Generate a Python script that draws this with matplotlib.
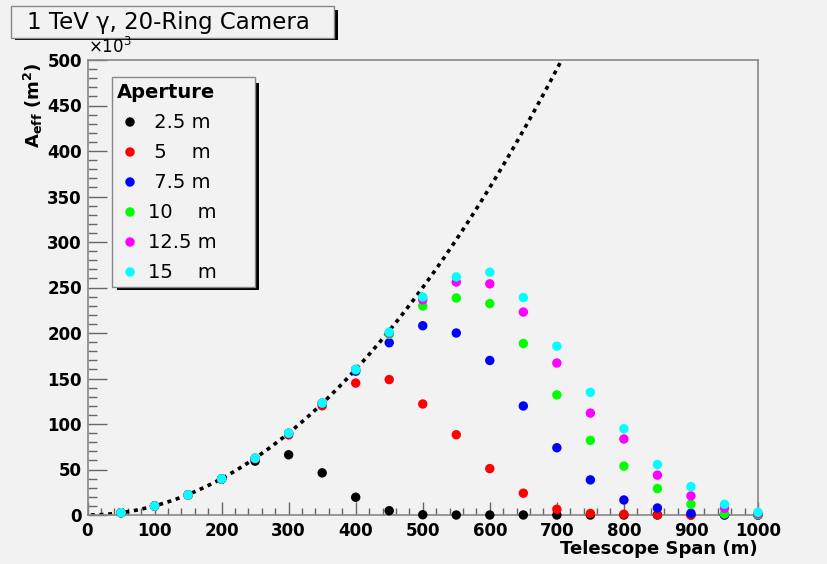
import numpy as np
import matplotlib
matplotlib.use("Agg")
import matplotlib.pyplot as plt
from matplotlib.patches import Rectangle
from matplotlib.ticker import MultipleLocator

# Effective area (units of 10^3 m^2) versus telescope span, per mirror aperture
span = [50, 100, 150, 200, 250, 300, 350, 400, 450, 500,
        550, 600, 650, 700, 750, 800, 850, 900, 950, 1000]

aeff_2p5 = [2.5, 9.9, 22, 39.5, 59.2, 66.2, 46.3, 19.5, 4.7, 0.3,
            0, 0, 0, 0, 0, 0, 0, 0, 0, 0]
aeff_5 = [2.5, 9.9, 22, 39.5, 61.5, 88, 120, 145, 148.8, 122,
          88.2, 51, 24, 6.3, 1.7, 0.8, 0.3, 0, 0, 0]
aeff_7p5 = [2.5, 9.9, 22, 39.6, 62, 89.5, 122.5, 158, 189.3, 208,
            200, 169.8, 119.8, 73.9, 38.6, 16.5, 7.7, 1.9, 0.3, 0]
aeff_10 = [2.5, 9.9, 22, 39.7, 62.3, 89.8, 123, 159.5, 198.5, 229.7,
           238.5, 232.3, 188.5, 132, 82, 53.7, 29, 11.8, 1.1, 0.3]
aeff_12p5 = [2.5, 9.9, 22, 39.7, 62.5, 90, 123, 160, 200, 236.5,
             256, 254, 223, 167, 112, 83.5, 43.8, 21, 7.4, 1.5]
aeff_15 = [2.5, 9.9, 22, 39.7, 62.5, 90, 123, 160, 201, 239.6,
           261.6, 266.8, 239, 185.5, 134.8, 94.8, 55.5, 31.2, 11.8, 3]

series = [aeff_2p5, aeff_5, aeff_7p5, aeff_10, aeff_12p5, aeff_15]
labels = [" 2.5 m", " 5    m", " 7.5 m", "10    m", "12.5 m", "15    m"]
colors = ["#000000", "#ff0000", "#0000ff", "#00ff00", "#ff00ff", "#00ffff"]

title_text = "1 TeV γ, 20-Ring Camera"
legend_title = "Aperture"

# Geometric reference: area of a square of side equal to the span (10^3 m^2)
def geometric_area(length_m):
    return np.asarray(length_m, dtype=float) ** 2 / 1000.0

W, H = 827, 564
BG = "#f2f2f2"
plt.rcParams["font.family"] = ["DejaVu Sans"]

fig = plt.figure(figsize=(W / 100, H / 100), dpi=100, facecolor=BG)
L, R, T, B = 87.5, 758, 60, 515
ax = fig.add_axes([L / W, 1 - B / H, (R - L) / W, (B - T) / H], facecolor=BG)

curve_x = np.linspace(5, 707, 400)
ax.plot(curve_x, geometric_area(curve_x), color="black", lw=2.6,
        linestyle=(0, (1.1, 1.3)), zorder=2)

for vals, c in zip(series, colors):
    ax.scatter(span, vals, s=46, color=c, edgecolors="none", zorder=3,
               clip_on=False)

ax.set_xlim(0, 1000)
ax.set_ylim(0, 500)
ax.xaxis.set_major_locator(MultipleLocator(100))
ax.xaxis.set_minor_locator(MultipleLocator(20))
ax.yaxis.set_major_locator(MultipleLocator(50))
ax.yaxis.set_minor_locator(MultipleLocator(10))
for s in ax.spines.values():
    s.set_color("#888888")
    s.set_linewidth(1.2)
ax.tick_params(axis="x", which="major", direction="in", length=9.5, width=1,
               color="#666666", pad=5, labelsize=12)
ax.tick_params(axis="x", which="minor", direction="in", length=4.8, width=1,
               color="#666666")
ax.tick_params(axis="y", which="major", direction="in", length=13.5, width=1,
               color="#666666", pad=4, labelsize=12)
ax.tick_params(axis="y", which="minor", direction="in", length=6.5, width=1,
               color="#666666")
for lab in ax.get_xticklabels() + ax.get_yticklabels():
    lab.set_fontweight("bold")

# Overlay in pixel coordinates for the boxed annotations
ov = fig.add_axes([0, 0, 1, 1], facecolor="none", zorder=10)
ov.set_xlim(0, W)
ov.set_ylim(H, 0)
ov.axis("off")

# Axis titles and exponent
ov.text(33, 62, r"A$_{\mathbf{eff}}$ (m$^{\mathbf{2}}$)", rotation=90,
        ha="center", va="top", fontsize=13, fontweight="bold")
ov.text(88, 57, r"$\times$10$^{3}$", ha="left", va="bottom", fontsize=12)
ov.text(758, 549, "Telescope Span (m)", ha="right", va="center",
        fontsize=13, fontweight="bold")

# Title box with shadow
ov.add_patch(Rectangle((15, 10), 323, 30, facecolor="black", edgecolor="none"))
ov.add_patch(Rectangle((11, 6), 323, 32, facecolor=BG, edgecolor="#888888",
                       lw=1))
ov.text(27, 22.5, title_text, ha="left", va="center", fontsize=16.5)

# Legend box with shadow
ov.add_patch(Rectangle((117, 83), 142, 207, facecolor="black", edgecolor="none"))
ov.add_patch(Rectangle((112, 77), 143, 210, facecolor=BG, edgecolor="#888888",
                       lw=1))
ov.text(117, 93, legend_title, ha="left", va="center", fontsize=14,
        fontweight="bold")
for i, (lab, c) in enumerate(zip(labels, colors)):
    yy = 122 + 30 * i
    ov.scatter([130], [yy], s=46, color=c, edgecolors="none")
    ov.text(148, yy, lab, ha="left", va="center", fontsize=14)

fig.savefig("out.png", dpi=100, facecolor=BG)
